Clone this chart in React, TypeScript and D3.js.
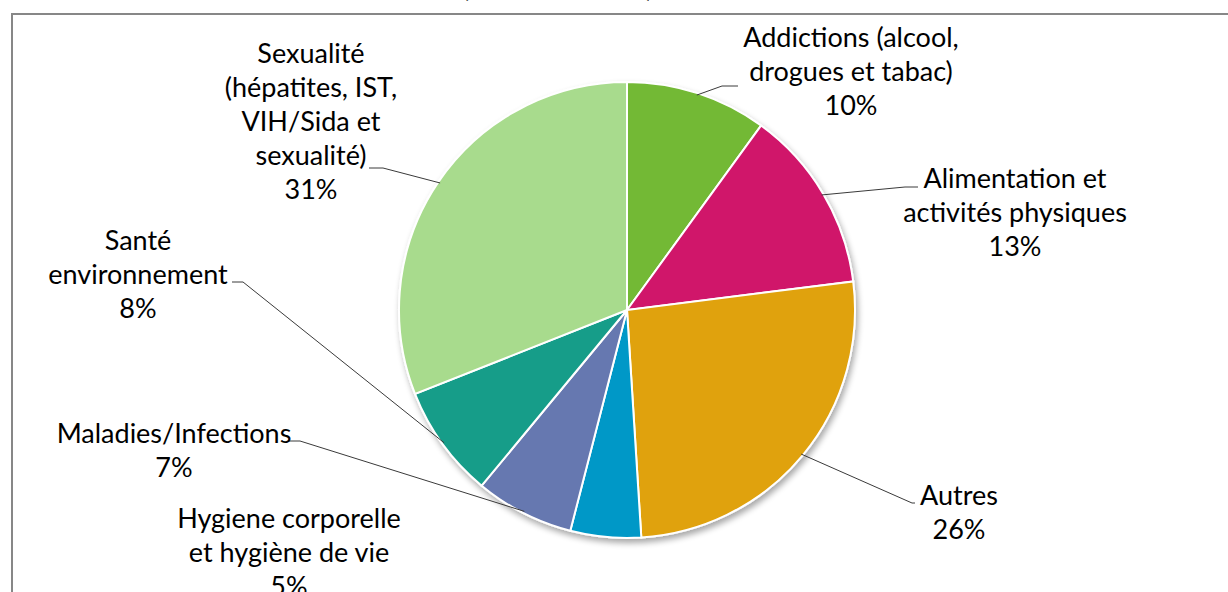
import { useMemo } from "react";
import * as d3 from "d3";

const WIDTH = 1228;
const HEIGHT = 592;
const CENTER = { x: 627, y: 310 };
const RADIUS = 228;
const LINE_HEIGHT = 34;
const FONT_SIZE = 27;

const categories = [
    "Addictions",
    "Alimentation",
    "Autres",
    "Hygiene",
    "Maladies",
    "Sante",
    "Sexualite",
];
const values = [10, 13, 26, 5, 7, 8, 31];
const labelLines = [
    ["Addictions (alcool,", "drogues et tabac)"],
    ["Alimentation et", "activités physiques"],
    ["Autres"],
    ["Hygiene corporelle", "et hygiène de vie"],
    ["Maladies/Infections"],
    ["Santé", "environnement"],
    ["Sexualité", "(hépatites, IST,", "VIH/Sida et", "sexualité)"],
];
const colors = ["#73b935", "#d0136b", "#e0a20b", "#0098c7", "#6678b0", "#169d89", "#a8db8d"];

// label placement: text centre x, first baseline y, leader elbow + end (null = no leader)
const LABELS: { x: number; y: number; leader: [number, number][] | null }[] = [
    { x: 851, y: 47, leader: [[722, 86], [738, 86]] },
    { x: 1015, y: 188, leader: [[905, 187], [918, 187]] },
    { x: 959, y: 505, leader: [[912, 503], [915, 503]] },
    { x: 289, y: 528, leader: null },
    { x: 174, y: 443, leader: [[300, 441], [288, 441]] },
    { x: 138, y: 250, leader: [[243, 282], [232, 282]] },
    { x: 311, y: 63, leader: [[383, 168], [369, 168]] },
];

const FONT = "'Gill Sans', 'Gill Sans MT', Lato, sans-serif";

export default function App() {
    const arcs = useMemo(
        () =>
            d3
                .pie<number>()
                .sort(null)
                .value((d) => d)(values),
        []
    );

    const arcGen = d3.arc<d3.PieArcDatum<number>>().innerRadius(0).outerRadius(RADIUS);
    const edgeArc = d3.arc<d3.PieArcDatum<number>>().innerRadius(RADIUS - 2).outerRadius(RADIUS - 2);

    return (
        <svg
            width={WIDTH}
            height={HEIGHT}
            style={{ position: "absolute", left: 0, top: 0, background: "#fff" }}
            fontFamily={FONT}
        >
            <defs>
                <filter id="shadow" x="-10%" y="-10%" width="120%" height="125%">
                    <feGaussianBlur in="SourceAlpha" stdDeviation="3" />
                    <feOffset dx="2" dy="4" result="b" />
                    <feComponentTransfer>
                        <feFuncA type="linear" slope="0.35" />
                    </feComponentTransfer>
                    <feMerge>
                        <feMergeNode />
                        <feMergeNode in="SourceGraphic" />
                    </feMerge>
                </filter>
            </defs>

            {/* cropped title, only the bottoms of the brackets show */}
            <text x={462} y={-3} fontSize={FONT_SIZE} fill="#000">(</text>
            <text x={646} y={-3} fontSize={FONT_SIZE} fill="#000">)</text>

            {/* chart frame */}
            <path d={`M12,${HEIGHT} V14 H${WIDTH}`} fill="none" stroke="#878787" strokeWidth={2} />

            <g transform={`translate(${CENTER.x},${CENTER.y})`}>
                <g filter="url(#shadow)">
                    {arcs.map((a, i) => (
                        <path key={categories[i]} d={arcGen(a) ?? ""} fill={colors[i]} stroke="#fff" strokeWidth={2} />
                    ))}
                </g>
                {arcs.map((a, i) => {
                    const ld = LABELS[i].leader;
                    if (!ld) return null;
                    const [px, py] = edgeArc.centroid(a);
                    const pts = [[px + CENTER.x, py + CENTER.y], ...ld].map(
                        ([x, y]) => [x - CENTER.x, y - CENTER.y] as [number, number]
                    );
                    return (
                        <path
                            key={`l${i}`}
                            d={d3.line()(pts) ?? ""}
                            fill="none"
                            stroke="#3a3a3a"
                            strokeWidth={1}
                        />
                    );
                })}
            </g>

            {arcs.map((a, i) => {
                const lab = LABELS[i];
                const lines = [...labelLines[i], `${values[i]}%`];
                return (
                    <text key={`t${i}`} textAnchor="middle" fontSize={FONT_SIZE} fill="#000">
                        {lines.map((t, j) => (
                            <tspan key={j} x={lab.x} y={lab.y + j * LINE_HEIGHT}>
                                {t}
                            </tspan>
                        ))}
                    </text>
                );
            })}
        </svg>
    );
}
